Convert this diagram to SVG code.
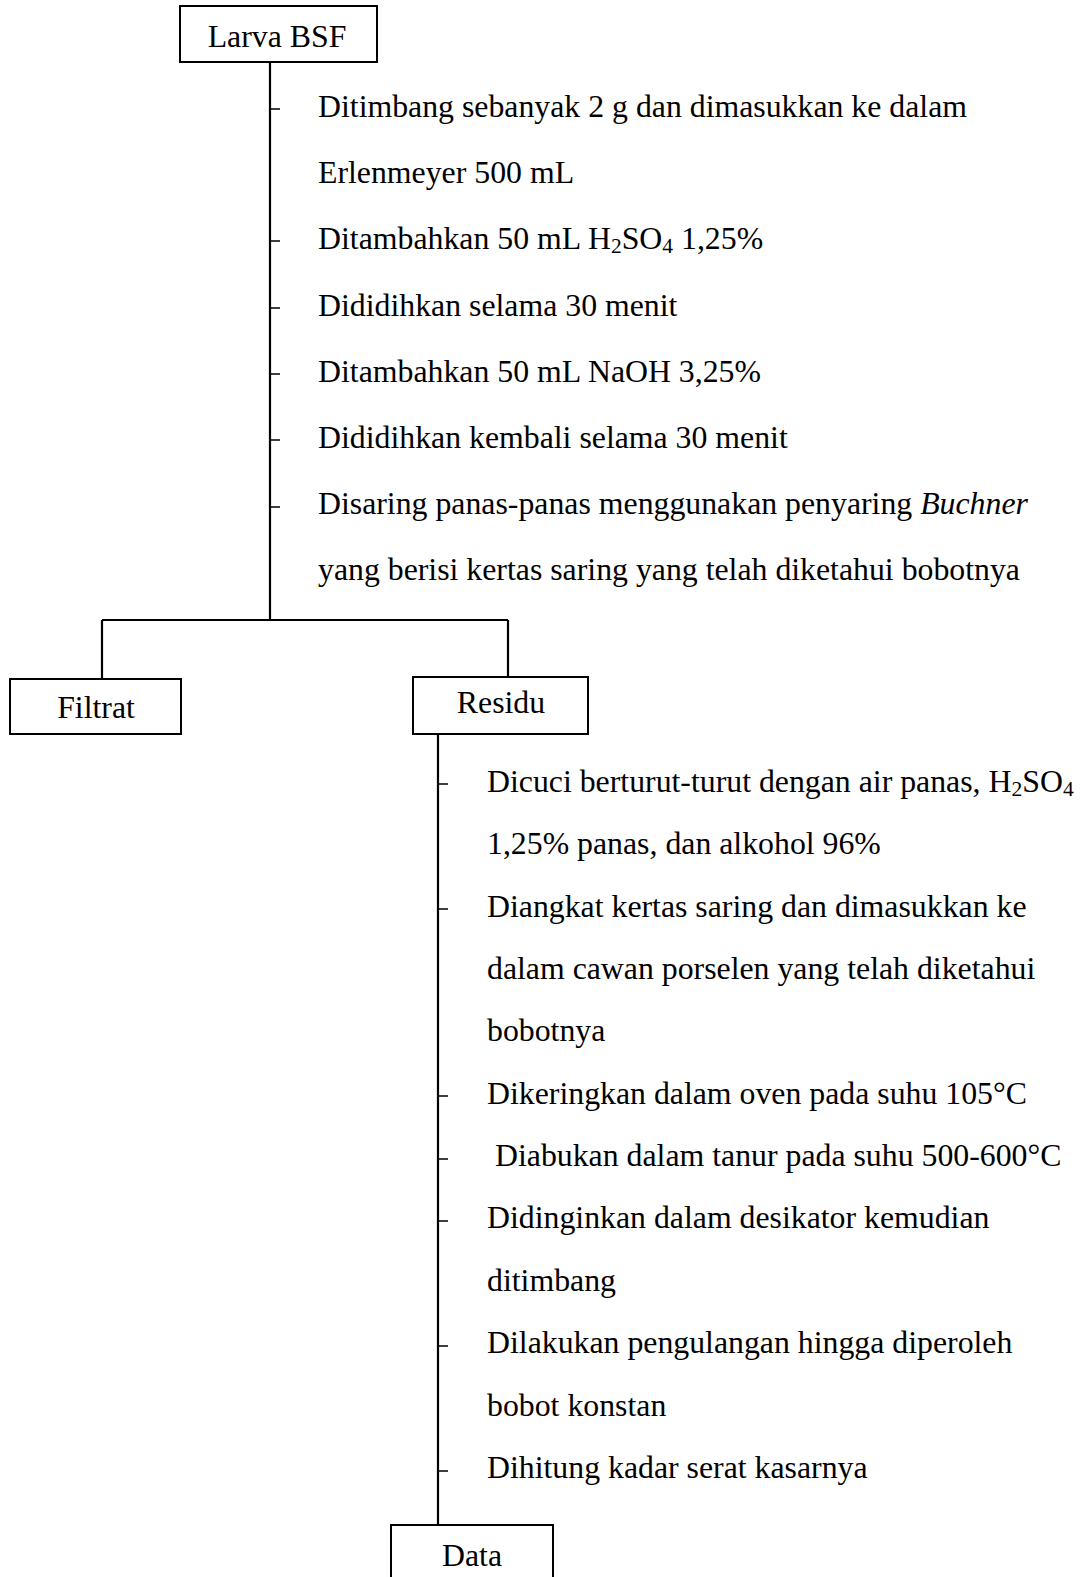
<svg xmlns="http://www.w3.org/2000/svg" width="1085" height="1577" viewBox="0 0 1085 1577">
<style>
.box{fill:#fff;stroke:#000;stroke-width:2}
.ln{stroke:#000;stroke-width:2.2;fill:none}
.tk{stroke:#000;stroke-width:1.6}
text{font-family:"Liberation Serif","Times New Roman",serif;font-size:31.8px;fill:#000}
.c{text-anchor:middle}
.sub{font-size:21.5px}
</style>
<rect width="1085" height="1577" fill="#fff"/>
<g id="connectors">
<path class="ln" d="M270 62 V620 M102 620 H508 M102 620 V679 M508 620 V677 M438 734 V1525"/>
<path class="tk" d="M270 109 H280 M270 241 H280 M270 308 H280 M270 374 H280 M270 440 H280 M270 507 H280"/>
<path class="tk" d="M438 784 H448 M438 909 H448 M438 1096 H448 M438 1159 H448 M438 1221 H448 M438 1346 H448 M438 1471 H448"/>
</g>
<g id="steps1">
<text x="318" y="117">Ditimbang sebanyak 2 g dan dimasukkan ke dalam</text>
<text x="318" y="183">Erlenmeyer 500 mL</text>
<text x="318" y="249">Ditambahkan 50 mL H<tspan class="sub" dy="4">2</tspan><tspan dy="-4">SO</tspan><tspan class="sub" dy="4">4</tspan><tspan dy="-4"> 1,25%</tspan></text>
<text x="318" y="316">Dididihkan selama 30 menit</text>
<text x="318" y="382">Ditambahkan 50 mL NaOH 3,25%</text>
<text x="318" y="448">Dididihkan kembali selama 30 menit</text>
<text x="318" y="514">Disaring panas-panas menggunakan penyaring <tspan font-style="italic">Buchner</tspan></text>
<text x="318" y="580">yang berisi kertas saring yang telah diketahui bobotnya</text>
</g>
<g id="steps2">
<text x="487" y="792">Dicuci berturut-turut dengan air panas, H<tspan class="sub" dy="4">2</tspan><tspan dy="-4">SO</tspan><tspan class="sub" dy="4">4</tspan></text>
<text x="487" y="854">1,25% panas, dan alkohol 96%</text>
<text x="487" y="917">Diangkat kertas saring dan dimasukkan ke</text>
<text x="487" y="979">dalam cawan porselen yang telah diketahui</text>
<text x="487" y="1041">bobotnya</text>
<text x="487" y="1104">Dikeringkan dalam oven pada suhu 105°C</text>
<text x="495" y="1166">Diabukan dalam tanur pada suhu 500-600°C</text>
<text x="487" y="1228">Didinginkan dalam desikator kemudian</text>
<text x="487" y="1291">ditimbang</text>
<text x="487" y="1353">Dilakukan pengulangan hingga diperoleh</text>
<text x="487" y="1416">bobot konstan</text>
<text x="487" y="1478">Dihitung kadar serat kasarnya</text>
</g>
<g id="larva">
<rect class="box" x="180" y="6" width="197" height="56"/>
<text class="c" x="277" y="47">Larva BSF</text>
</g>
<g id="filtrat">
<rect class="box" x="10" y="679" width="171" height="55"/>
<text class="c" x="96" y="718">Filtrat</text>
</g>
<g id="residu">
<rect class="box" x="413" y="677" width="175" height="57"/>
<text class="c" x="501" y="713">Residu</text>
</g>
<g id="data">
<rect class="box" x="391" y="1525" width="162" height="70"/>
<text class="c" x="472" y="1566">Data</text>
</g>
</svg>
